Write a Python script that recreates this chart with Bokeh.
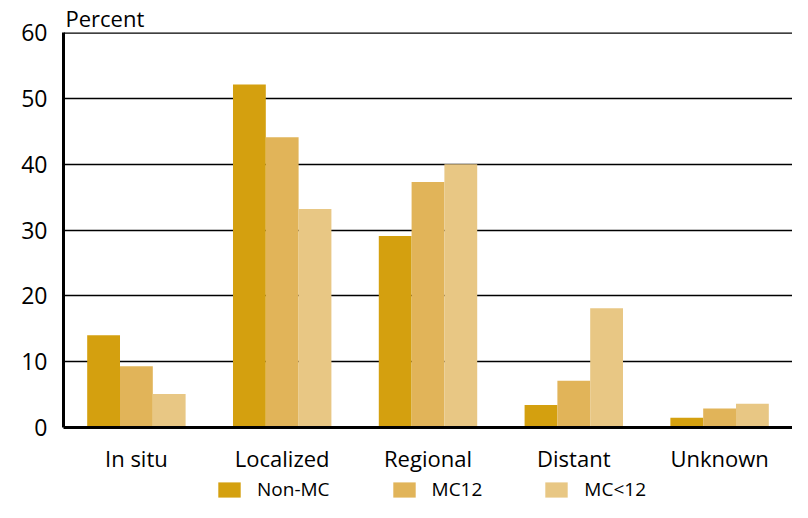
from bokeh.plotting import figure
from bokeh.models import FactorRange, Range1d, ColumnDataSource, Legend, LegendItem, Span, FixedTicker
from bokeh.layouts import column
from bokeh.transform import dodge
from bokeh.embed import file_html
from bokeh.resources import INLINE

categories = ["In situ", "Localized", "Regional", "Distant", "Unknown"]
series_names = ["Non-MC", "MC12", "MC<12"]
non_mc = [14.0, 52.1, 29.1, 3.4, 1.5]
mc12 = [9.3, 44.1, 37.3, 7.1, 2.9]
mc_lt12 = [5.1, 33.2, 40.0, 18.1, 3.6]
y_ticks = [0, 10, 20, 30, 40, 50, 60]
colors = ["#D4A00F", "#E1B459", "#E8C784"]

FONT = "Open Sans"

source = ColumnDataSource(data=dict(cat=categories, s0=non_mc, s1=mc12, s2=mc_lt12))

p = figure(
    x_range=FactorRange(*categories, range_padding=0),
    y_range=Range1d(0, 60),
    width=792, height=475,
    output_backend="svg", toolbar_location=None,
    min_border_left=63, min_border_right=0, min_border_top=31, min_border_bottom=30,
    title="Percent",
)
p.title.text_font = FONT
p.title.text_font_size = "22px"
p.title.text_font_style = "normal"
p.title.text_color = "black"
p.title.align = "left"
p.title.offset = 2
p.title.standoff = 0
p.outline_line_color = None
p.background_fill_color = "white"
p.border_fill_color = "white"

w = 0.225
offsets = [-w, 0.0, w]
for i, (off, col) in enumerate(zip(offsets, colors)):
    p.vbar(x=dodge("cat", off, range=p.x_range), top="s%d" % i, width=w,
           source=source, fill_color=col, line_color=None)

# grid
p.xgrid.grid_line_color = None
p.ygrid.ticker = FixedTicker(ticks=y_ticks)
p.ygrid.grid_line_color = "black"
p.ygrid.grid_line_width = 1.5
p.add_layout(Span(location=60, dimension="width", line_color="black", line_width=2.5))

# axes
p.yaxis.ticker = FixedTicker(ticks=y_ticks)
p.yaxis.axis_line_width = 3
p.yaxis.axis_line_color = "black"
p.yaxis.major_tick_line_color = None
p.yaxis.minor_tick_line_color = None
p.yaxis.major_label_text_font = FONT
p.yaxis.major_label_text_font_size = "23px"
p.yaxis.major_label_text_color = "black"
p.yaxis.major_label_standoff = 10

p.xaxis.axis_line_width = 3
p.xaxis.axis_line_color = "black"
p.xaxis.major_tick_line_color = None
p.xaxis.minor_tick_line_color = None
p.xaxis.major_label_text_font = FONT
p.xaxis.major_label_text_font_size = "22px"
p.xaxis.major_label_text_color = "black"
p.xaxis.major_label_standoff = 9

# legend strip (swatch renderers are zero-height proxies; only the legend shows)
lg = figure(width=792, height=27, x_range=Range1d(0, 1), y_range=Range1d(0, 1),
            output_backend="svg", toolbar_location=None,
            min_border_left=0, min_border_right=0, min_border_top=0, min_border_bottom=0)
lg.axis.visible = False
lg.grid.visible = False
lg.outline_line_color = None
lg.background_fill_color = "white"
lg.border_fill_color = "white"
swatches = [lg.vbar(x=[0.5], top=[0], bottom=[0], width=0.0, fill_color=c, line_color=None)
            for c in colors]

legend = Legend(
    items=[LegendItem(label=n, renderers=[r]) for n, r in zip(series_names, swatches)],
    orientation="horizontal", location=(152, 0),
    glyph_width=28, glyph_height=19, label_standoff=14, spacing=60,
    padding=0, margin=0, border_line_color=None, background_fill_alpha=0,
    label_text_font=FONT, label_text_font_size="19px", label_text_color="black",
)
lg.add_layout(legend, "center")

layout = column(p, lg, spacing=0)
open("out.html", "w").write(file_html(layout, INLINE))
